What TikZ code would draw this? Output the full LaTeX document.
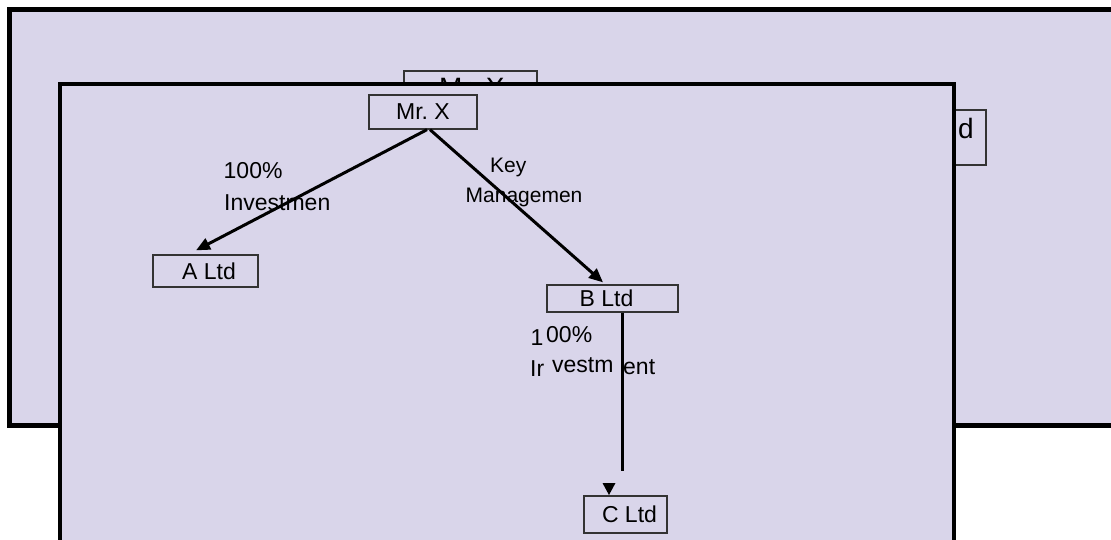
\documentclass[tikz,border=0pt]{standalone}
\usepackage{fontspec}
\setmainfont{Liberation Sans}
\usetikzlibrary{arrows.meta}
\definecolor{panel}{RGB}{217,213,234}
\begin{document}
\begin{tikzpicture}[x=1pt,y=-1pt,
  boxnode/.style={draw=black!80,line width=1.3pt,fill=panel,inner sep=0pt,font=\fontsize{23}{27}\selectfont},
  lbl/.style={inner sep=0pt,anchor=base west,font=\fontsize{23}{27}\selectfont},
  lblsm/.style={inner sep=0pt,anchor=base west,font=\fontsize{21}{25}\selectfont},
  backtxt/.style={inner sep=0pt,font=\fontsize{28}{33}\selectfont},
  conn/.style={line width=3pt,black},
  arr/.style={conn,-{Triangle[length=14pt,width=12pt]}},
  ]
\useasboundingbox (0,0) rectangle (1111,540);
\clip (0,0) rectangle (1111,540);
\fill[white] (0,0) rectangle (1111,540);
% back panel
\draw[fill=panel,line width=5pt] (9.5,9.5) rectangle (1140,425.5);
\node[boxnode,minimum width=133pt,minimum height=44pt] (bmrx) at (470.5,93) {};
\node[backtxt,anchor=base west] (bmrxt) at (439,98) {Mr.\ X};
\node[boxnode,minimum width=100pt,minimum height=55pt] (bbox) at (936,137.5) {};
\node[backtxt,anchor=base east] (bboxt) at (974,139) {d};
% front panel
\draw[fill=panel,line width=4pt] (60,84) rectangle (954,600);
\node[boxnode,minimum width=108pt,minimum height=34pt] (mrx) at (423,112) {Mr.\ X};
\node[boxnode,minimum width=105pt,minimum height=32pt] (altd) at (205.5,271) {\hspace*{7pt}A Ltd};
\node[boxnode,minimum width=131pt,minimum height=27pt] (bltd) at (612.5,298.5) {B Ltd\hspace*{12pt}};
\node[boxnode,minimum width=83pt,minimum height=37pt] (cltd) at (625.5,514.5) {\hspace*{8pt}C Ltd};
% labels
\node[lbl] (l1a) at (223.5,179) {100\%};
\node[lbl] (l1b) at (224,211) {Investmen};
\node[lblsm] (l2a) at (490,173) {Key};
\node[lblsm] (l2b) at (465.5,203) {Managemen};
\node[lbl] (l3a) at (530.5,345) {1};
\node[lbl] (l3b) at (546,342) {00\%};
\node[lbl] (l3c) at (530,376) {Ir};
\node[lbl] (l3d) at (552,372) {vestm};
\node[lbl] (l3e) at (623,374) {ent};
% connectors
\draw[arr] ([xshift=4pt]mrx.south) -- ([xshift=-9.5pt,yshift=4pt]altd.north);
\draw[arr] ([xshift=7pt]mrx.south) -- ([xshift=-9.5pt,yshift=2pt]bltd.north);
\coordinate (bend) at (622,471);
\draw[conn] ([xshift=9.5pt]bltd.south) -- (bend);
\coordinate (ctip) at (609,495);
\fill (ctip) -- ++(-6.5,-12) -- ++(13,0) -- cycle;
\end{tikzpicture}
\end{document}
